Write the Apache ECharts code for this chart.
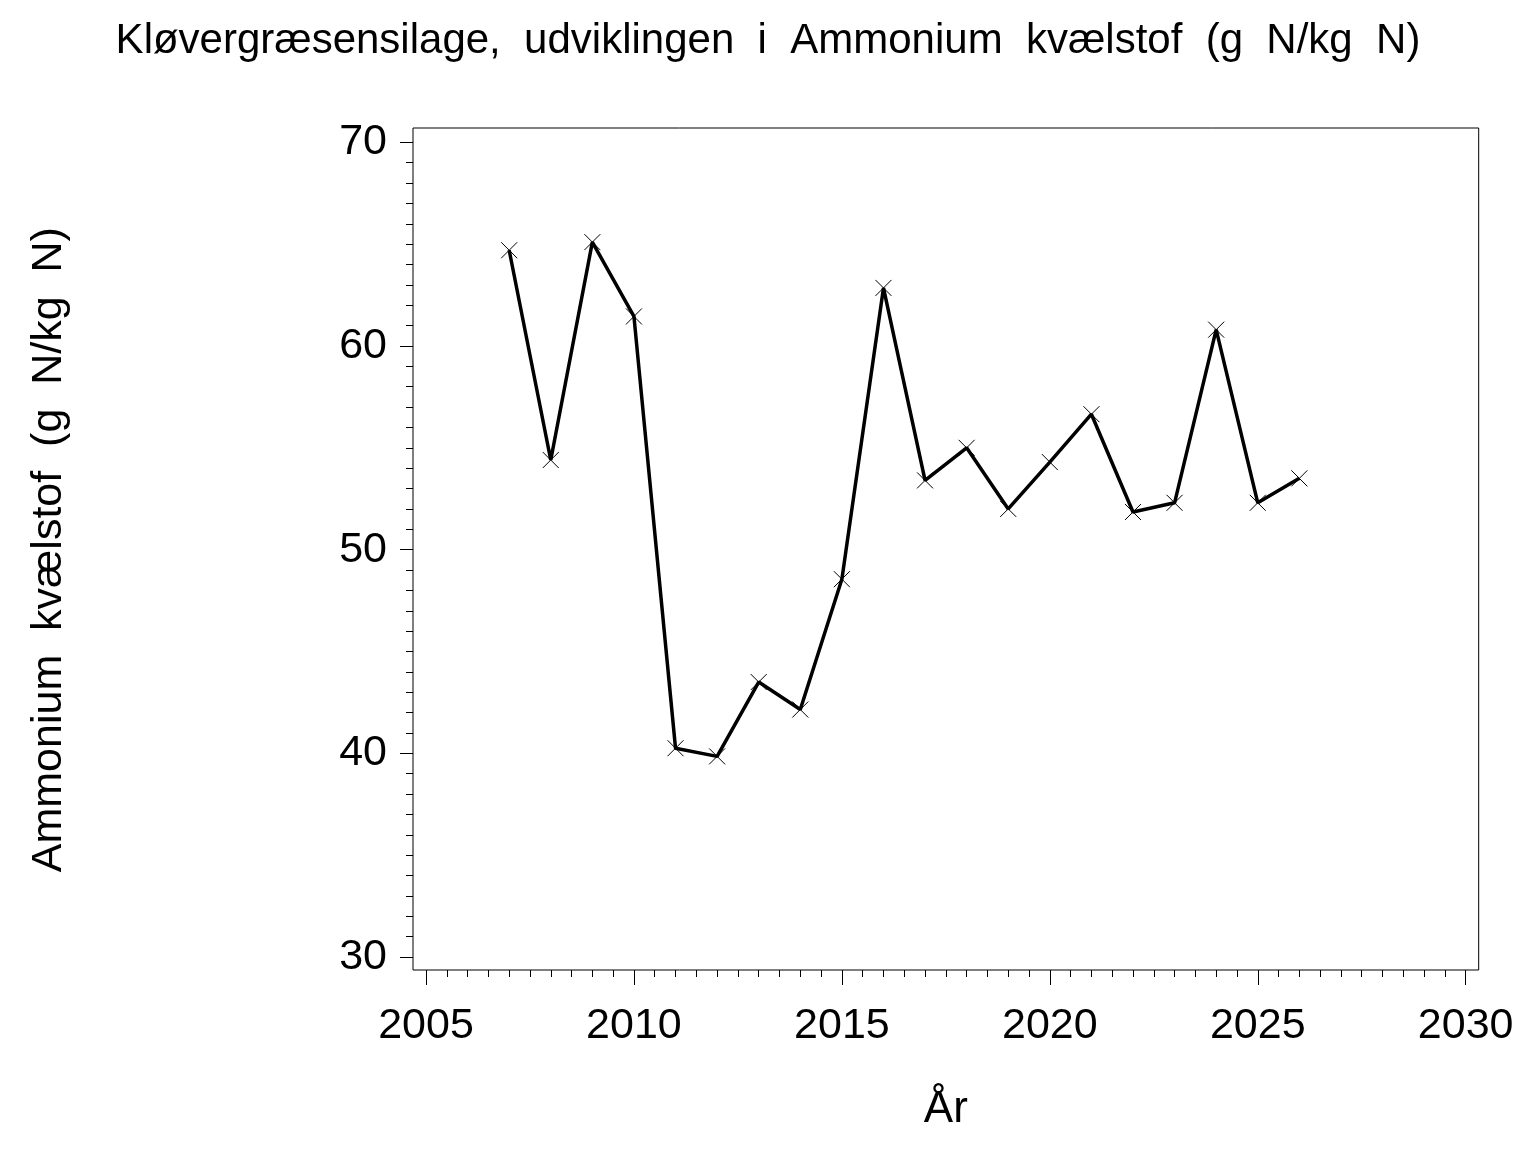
<!DOCTYPE html>
<html>
<head>
<meta charset="utf-8">
<script src="https://cdn.jsdelivr.net/npm/echarts@6/dist/echarts.min.js"></script>
<style>html,body{margin:0;padding:0;background:#fff;}#c{width:1536px;height:1152px;}</style>
</head>
<body>
<div id="c"></div>
<script>
const titleText = 'Kløvergræsensilage,  udviklingen  i  Ammonium  kvælstof  (g  N/kg  N)';
const xName = 'År';
const yName = 'Ammonium  kvælstof  (g  N/kg  N)';
const years = [2007, 2008, 2009, 2010, 2011, 2012, 2013, 2014, 2015, 2016, 2017, 2018, 2019, 2020, 2021, 2022, 2023, 2024, 2025, 2026];
const values = [64.7, 54.4, 65.1, 61.45, 40.25, 39.85, 43.5, 42.15, 48.55, 62.85, 53.4, 55.0, 52.0, 54.3, 56.65, 51.85, 52.3, 60.8, 52.3, 53.5];
const xTicks = { min: 2005, max: 2030, interval: 5 };
const yTicks = { min: 30, max: 70, interval: 10 };

const font = '"Liberation Sans", Arial, sans-serif';
const chart = echarts.init(document.getElementById('c'), null, { renderer: 'canvas' });
chart.setOption({
  backgroundColor: '#fff',
  animation: false,
  title: {
    text: titleText,
    left: 'center',
    top: 15,
    textStyle: { fontFamily: font, fontSize: 42, fontWeight: 'normal', color: '#000' }
  },
  grid: [
    { left: 426, right: 70.3, top: 142.3, bottom: 195, containLabel: false },
    { left: 413, right: 57.3, top: 128, bottom: 182, show: true, borderColor: '#000', borderWidth: 1, backgroundColor: 'transparent' }
  ],
  xAxis: [
    {
      type: 'value', gridIndex: 0,
      min: xTicks.min, max: xTicks.max, interval: xTicks.interval,
      offset: 13,
      name: xName, nameLocation: 'middle', nameGap: 118,
      nameTextStyle: { fontFamily: font, fontSize: 44, color: '#000' },
      axisLine: { show: false },
      axisTick: { show: true, inside: false, length: 15, lineStyle: { color: '#000', width: 1 } },
      minorTick: { show: true, splitNumber: 10, length: 7, lineStyle: { color: '#000', width: 1 } },
      splitLine: { show: false },
      axisLabel: { margin: 35, fontFamily: font, fontSize: 43, color: '#000', formatter: v => String(v) }
    },
    { type: 'value', gridIndex: 1, show: false, min: 0, max: 1 }
  ],
  yAxis: [
    {
      type: 'value', gridIndex: 0,
      min: yTicks.min, max: yTicks.max, interval: yTicks.interval,
      offset: 13,
      name: yName, nameLocation: 'middle', nameGap: 342, nameRotate: 90,
      nameTextStyle: { fontFamily: font, fontSize: 43, color: '#000' },
      axisLine: { show: false },
      axisTick: { show: true, inside: false, length: 13, lineStyle: { color: '#000', width: 1 } },
      minorTick: { show: true, splitNumber: 10, length: 7, lineStyle: { color: '#000', width: 1 } },
      splitLine: { show: false },
      axisLabel: { margin: 26, fontFamily: font, fontSize: 43, color: '#000' }
    },
    { type: 'value', gridIndex: 1, show: false, min: 0, max: 1 }
  ],
  series: [{
    type: 'line',
    xAxisIndex: 0, yAxisIndex: 0,
    data: years.map((y, i) => [y, values[i]]),
    lineStyle: { color: '#000', width: 3.5 },
    symbol: 'path://M0,0L10,10M10,0L0,10',
    symbolSize: 16,
    showAllSymbol: true,
    itemStyle: { color: 'none', borderColor: '#000', borderWidth: 1 },
    emphasis: { disabled: true }
  }]
});
</script>
</body>
</html>
